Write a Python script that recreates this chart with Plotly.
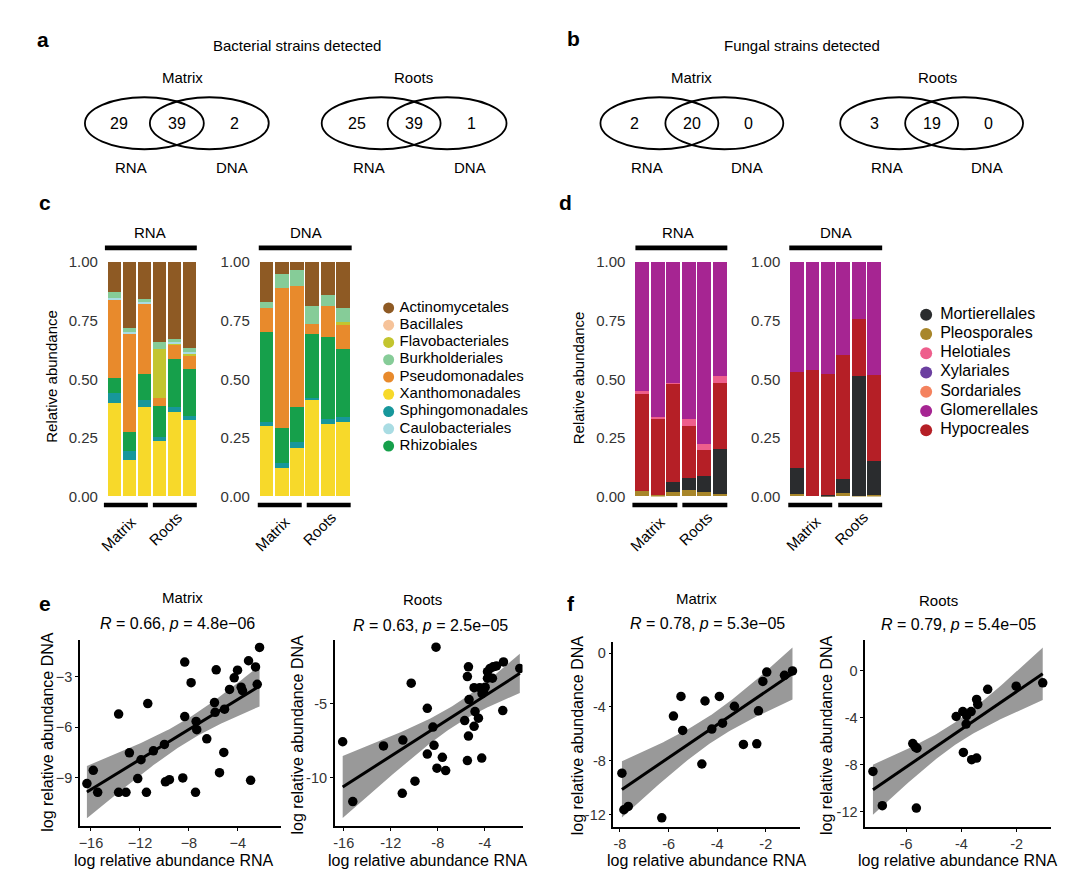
import numpy as np
import plotly.graph_objects as go

W, H = 1080, 886
FONT = "Liberation Sans, Arial, sans-serif"


def fx(p):
    return p / W


def fy(p):
    return 1 - p / H


# ---------------- Venn counts: [RNA only, shared, DNA only] ----------------
venn_bact_matrix = [29, 39, 2]
venn_bact_roots = [25, 39, 1]
venn_fung_matrix = [2, 20, 0]
venn_fung_roots = [3, 19, 0]

# ---------------- stacked bars ----------------
samples = ["M1", "M2", "M3", "R1", "R2", "R3"]

bact_legend = ["Actinomycetales", "Bacillales", "Flavobacteriales", "Burkholderiales",
               "Pseudomonadales", "Xanthomonadales", "Sphingomonadales",
               "Caulobacteriales", "Rhizobiales"]
bact_colors = ["#8E5A24", "#F6C39A", "#C3C52F", "#86CC98", "#E88A2C",
               "#F7D92A", "#17979B", "#A9DCE3", "#16A04B"]
bact_stack = ["Xanthomonadales", "Sphingomonadales", "Rhizobiales", "Pseudomonadales",
              "Flavobacteriales", "Caulobacteriales", "Burkholderiales", "Bacillales",
              "Actinomycetales"]

# bacterial RNA relative abundance per order (6 samples)
b_rna_xanthomonadales = [0.400, 0.157, 0.380, 0.238, 0.359, 0.326]
b_rna_sphingomonadales = [0.040, 0.039, 0.030, 0.014, 0.021, 0.017]
b_rna_rhizobiales = [0.067, 0.077, 0.112, 0.135, 0.207, 0.202]
b_rna_pseudomonadales = [0.334, 0.422, 0.300, 0.035, 0.059, 0.056]
b_rna_flavobacteriales = [0.000, 0.000, 0.000, 0.207, 0.006, 0.007]
b_rna_caulobacteriales = [0.007, 0.007, 0.009, 0.000, 0.005, 0.007]
b_rna_burkholderiales = [0.025, 0.018, 0.011, 0.028, 0.014, 0.017]
b_rna_bacillales = [0.000, 0.000, 0.000, 0.000, 0.000, 0.000]
b_rna_actinomycetales = [0.127, 0.280, 0.158, 0.343, 0.329, 0.368]

# bacterial DNA
b_dna_xanthomonadales = [0.299, 0.122, 0.208, 0.414, 0.310, 0.319]
b_dna_sphingomonadales = [0.020, 0.022, 0.024, 0.008, 0.020, 0.021]
b_dna_rhizobiales = [0.383, 0.147, 0.150, 0.273, 0.351, 0.289]
b_dna_pseudomonadales = [0.102, 0.599, 0.516, 0.039, 0.130, 0.104]
b_dna_flavobacteriales = [0.000, 0.000, 0.000, 0.000, 0.000, 0.012]
b_dna_caulobacteriales = [0.000, 0.000, 0.000, 0.000, 0.000, 0.000]
b_dna_burkholderiales = [0.027, 0.060, 0.066, 0.077, 0.049, 0.058]
b_dna_bacillales = [0.000, 0.000, 0.000, 0.000, 0.000, 0.000]
b_dna_actinomycetales = [0.169, 0.050, 0.036, 0.189, 0.140, 0.197]

bact_rna = {
    "Xanthomonadales": b_rna_xanthomonadales, "Sphingomonadales": b_rna_sphingomonadales,
    "Rhizobiales": b_rna_rhizobiales, "Pseudomonadales": b_rna_pseudomonadales,
    "Flavobacteriales": b_rna_flavobacteriales, "Caulobacteriales": b_rna_caulobacteriales,
    "Burkholderiales": b_rna_burkholderiales, "Bacillales": b_rna_bacillales,
    "Actinomycetales": b_rna_actinomycetales}
bact_dna = {
    "Xanthomonadales": b_dna_xanthomonadales, "Sphingomonadales": b_dna_sphingomonadales,
    "Rhizobiales": b_dna_rhizobiales, "Pseudomonadales": b_dna_pseudomonadales,
    "Flavobacteriales": b_dna_flavobacteriales, "Caulobacteriales": b_dna_caulobacteriales,
    "Burkholderiales": b_dna_burkholderiales, "Bacillales": b_dna_bacillales,
    "Actinomycetales": b_dna_actinomycetales}

fung_legend = ["Mortierellales", "Pleosporales", "Helotiales", "Xylariales",
               "Sordariales", "Glomerellales", "Hypocreales"]
fung_colors = ["#2A2C2E", "#A8862A", "#EE5E8C", "#6B3FA0", "#F4825E", "#A62592", "#B51F26"]
fung_stack = ["Pleosporales", "Mortierellales", "Hypocreales", "Sordariales",
              "Xylariales", "Helotiales", "Glomerellales"]

f_rna_pleosporales = [0.025, 0.006, 0.020, 0.028, 0.017, 0.011]
f_rna_mortierellales = [0.000, 0.000, 0.042, 0.051, 0.069, 0.190]
f_rna_hypocreales = [0.413, 0.327, 0.418, 0.221, 0.111, 0.284]
f_rna_sordariales = [0.000, 0.000, 0.000, 0.000, 0.000, 0.000]
f_rna_xylariales = [0.000, 0.000, 0.000, 0.000, 0.000, 0.000]
f_rna_helotiales = [0.013, 0.004, 0.005, 0.029, 0.025, 0.028]
f_rna_glomerellales = [0.549, 0.663, 0.515, 0.671, 0.778, 0.487]

f_dna_pleosporales = [0.011, 0.000, 0.001, 0.014, 0.004, 0.006]
f_dna_mortierellales = [0.111, 0.000, 0.005, 0.059, 0.509, 0.144]
f_dna_hypocreales = [0.408, 0.541, 0.518, 0.531, 0.245, 0.370]
f_dna_sordariales = [0.000, 0.000, 0.000, 0.000, 0.000, 0.000]
f_dna_xylariales = [0.000, 0.000, 0.000, 0.000, 0.000, 0.000]
f_dna_helotiales = [0.000, 0.000, 0.000, 0.000, 0.000, 0.000]
f_dna_glomerellales = [0.470, 0.459, 0.476, 0.396, 0.242, 0.480]

fung_rna = {
    "Pleosporales": f_rna_pleosporales, "Mortierellales": f_rna_mortierellales,
    "Hypocreales": f_rna_hypocreales, "Sordariales": f_rna_sordariales,
    "Xylariales": f_rna_xylariales, "Helotiales": f_rna_helotiales,
    "Glomerellales": f_rna_glomerellales}
fung_dna = {
    "Pleosporales": f_dna_pleosporales, "Mortierellales": f_dna_mortierellales,
    "Hypocreales": f_dna_hypocreales, "Sordariales": f_dna_sordariales,
    "Xylariales": f_dna_xylariales, "Helotiales": f_dna_helotiales,
    "Glomerellales": f_dna_glomerellales}

# ---------------- scatter data (log relative abundance) ----------------
e_matrix_rna = [-16.33, -15.81, -15.45, -13.74, -13.74, -13.14, -12.86, -12.18, -11.91, -11.36,
                -11.47, -10.90, -10.00, -9.92, -9.59, -8.50, -8.34, -8.34, -7.82, -7.46,
                -7.41, -7.36, -6.54, -5.77, -5.91, -5.86, -5.50, -5.15, -5.09, -4.68,
                -4.30, -4.03, -3.73, -3.62, -3.13, -2.96, -2.56, -2.42, -2.23]
e_matrix_dna = [-9.33, -8.55, -9.85, -5.21, -9.85, -9.85, -7.51, -9.04, -7.92, -4.59,
                -9.85, -7.39, -7.01, -9.23, -9.10, -9.00, -2.13, -5.36, -3.35, -9.85,
                -5.65, -6.14, -6.68, -2.59, -4.53, -5.11, -8.69, -7.49, -4.92, -3.75,
                -3.06, -2.61, -3.62, -3.83, -2.05, -9.14, -2.42, -3.45, -1.26]

e_roots_rna = [-16.09, -15.23, -12.62, -10.97, -11.02, -10.26, -9.94, -8.89, -8.89, -8.41,
               -8.32, -8.15, -8.07, -7.61, -7.33, -5.71, -5.39, -5.48, -5.34, -5.39,
               -5.48, -4.91, -4.91, -4.83, -4.54, -4.43, -4.26, -4.11, -3.97, -3.77,
               -3.77, -3.35, -3.55, -3.29, -3.01, -2.47, -2.41, -1.02, -4.23]
e_roots_dna = [-7.58, -11.61, -7.86, -7.47, -11.06, -3.63, -10.24, -5.33, -8.41, -6.59,
               -7.82, -1.21, -9.36, -8.63, -9.52, -6.15, -2.53, -3.19, -4.74, -7.20,
               -8.85, -3.94, -6.54, -5.55, -5.99, -3.94, -8.68, -4.19, -3.90, -2.86,
               -3.30, -3.30, -2.64, -2.53, -2.47, -5.48, -2.20, -2.64, -4.34]

f_matrix_rna = [-7.92, -7.84, -7.66, -6.28, -5.80, -5.49, -5.42, -4.63, -4.50, -4.22,
                -3.91, -3.78, -3.29, -2.92, -2.37, -2.30, -2.12, -1.96, -1.23, -0.90]
f_matrix_dna = [-8.92, -11.64, -11.39, -12.24, -4.68, -3.22, -5.75, -8.24, -3.56, -5.65,
                -3.22, -5.21, -3.95, -6.79, -6.74, -4.29, -2.11, -1.41, -1.65, -1.33]

f_roots_rna = [-7.20, -6.86, -5.76, -5.67, -5.61, -5.63, -4.19, -3.95, -3.81, -3.83,
               -3.93, -3.65, -3.45, -3.41, -3.63, -3.45, -3.05, -2.02, -1.06]
f_roots_dna = [-8.56, -11.47, -6.19, -6.47, -6.58, -11.67, -3.89, -3.47, -3.81, -4.53,
               -6.94, -3.47, -2.44, -2.86, -7.56, -7.42, -1.58, -1.31, -1.03]

stat_labels = ["<i>R</i> = 0.66, <i>p</i> = 4.8e\u221206",
               "<i>R</i> = 0.63, <i>p</i> = 2.5e\u221205",
               "<i>R</i> = 0.78, <i>p</i> = 5.3e\u221205",
               "<i>R</i> = 0.79, <i>p</i> = 5.4e\u221205"]

# two-sided 95% t quantiles by degrees of freedom
T975 = {37: 2.026, 18: 2.101, 17: 2.110}


def lm_fit(x, y):
    x = np.asarray(x, float)
    y = np.asarray(y, float)
    n = len(x)
    b, a = np.polyfit(x, y, 1)
    xs = np.linspace(x.min(), x.max(), 100)
    yh = a + b * xs
    resid = y - (a + b * x)
    s = np.sqrt((resid ** 2).sum() / (n - 2))
    sxx = ((x - x.mean()) ** 2).sum()
    se = s * np.sqrt(1.0 / n + (xs - x.mean()) ** 2 / sxx)
    t = T975[n - 2]
    return xs, yh, yh - t * se, yh + t * se


fig = go.Figure()
layout_axes = {}

# ---------------- bar panels ----------------
bar_panels = [
    (1, bact_rna, bact_stack, dict(zip(bact_legend, bact_colors)), (106, 196)),
    (2, bact_dna, bact_stack, dict(zip(bact_legend, bact_colors)), (258, 350)),
    (3, fung_rna, fung_stack, dict(zip(fung_legend, fung_colors)), (634, 727)),
    (4, fung_dna, fung_stack, dict(zip(fung_legend, fung_colors)), (789, 882)),
]
for idx, data, order, cmap, (x0, x1) in bar_panels:
    xa = "x" if idx == 1 else f"x{idx}"
    ya = "y" if idx == 1 else f"y{idx}"
    for name in order:
        fig.add_trace(go.Bar(x=samples, y=data[name], name=name, marker_color=cmap[name],
                             marker_line_width=0, xaxis=xa, yaxis=ya, showlegend=False,
                             hoverinfo="name+y"))
    xk = "xaxis" if idx == 1 else f"xaxis{idx}"
    yk = "yaxis" if idx == 1 else f"yaxis{idx}"
    layout_axes[xk] = dict(domain=[fx(x0), fx(x1)], anchor=ya, showticklabels=False,
                           showgrid=False, zeroline=False, showline=False, ticks="",
                           range=[-0.5, 5.5], type="category")
    layout_axes[yk] = dict(domain=[fy(497), fy(258)], anchor=xa, range=[0, 1],
                           tickvals=[0, 0.25, 0.5, 0.75, 1.0],
                           ticktext=["0.00", "0.25", "0.50", "0.75", "1.00"],
                           tickfont=dict(size=15, color="#333333", family=FONT),
                           showgrid=False, zeroline=False, showline=False, ticks="",
                           ticklabelstandoff=8)

# ---------------- scatter panels ----------------
scatter_panels = [
    (5, e_matrix_rna, e_matrix_dna, (79, 280), (643, 833), [-16.9, -0.5], [-11.85, -0.8],
     [-16, -12, -8, -4], [-3, -6, -9], "\u2212"),
    (6, e_roots_rna, e_roots_dna, (334, 522), (643, 833), [-16.77, -0.79], [-13.26, -0.70],
     [-16, -12, -8, -4], [-5, -10], "-"),
    (7, f_matrix_rna, f_matrix_dna, (613, 800), (645, 834), [-8.27, -0.58], [-12.92, 0.85],
     [-8, -6, -4, -2], [0, -4, -8, -12], "-"),
    (8, f_roots_rna, f_roots_dna, (865, 1051), (643, 834), [-7.48, -0.76], [-13.28, 2.64],
     [-6, -4, -2], [0, -4, -8, -12], "-"),
]


def lab(v, minus):
    return (minus + str(abs(v))) if v < 0 else str(v)


for idx, xr, yr, (x0, x1), (y0, y1), xrange_, yrange_, xt, yt, minus in scatter_panels:
    xa, ya = f"x{idx}", f"y{idx}"
    xs, yh, lo, hi = lm_fit(xr, yr)
    fig.add_trace(go.Scatter(x=np.concatenate([xs, xs[::-1]]), y=np.concatenate([hi, lo[::-1]]),
                             fill="toself", fillcolor="#999999", line=dict(width=0),
                             mode="lines", xaxis=xa, yaxis=ya, showlegend=False,
                             hoverinfo="skip"))
    fig.add_trace(go.Scatter(x=xr, y=yr, mode="markers",
                             marker=dict(size=9.5, color="black"),
                             xaxis=xa, yaxis=ya, showlegend=False))
    fig.add_trace(go.Scatter(x=xs, y=yh, mode="lines", line=dict(color="black", width=3),
                             xaxis=xa, yaxis=ya, showlegend=False, hoverinfo="skip"))
    common = dict(showline=True, linecolor="black", linewidth=1.5, ticks="outside",
                  ticklen=3, tickwidth=1.2, tickcolor="black", showgrid=False,
                  zeroline=False, tickfont=dict(size=14.5, color="#333333", family=FONT))
    layout_axes[f"xaxis{idx}"] = dict(domain=[fx(x0), fx(x1)], anchor=ya, range=xrange_,
                                      tickvals=xt, ticktext=[lab(v, minus) for v in xt],
                                      **common)
    layout_axes[f"yaxis{idx}"] = dict(domain=[fy(y1), fy(y0)], anchor=xa, range=yrange_,
                                      tickvals=yt, ticktext=[lab(v, minus) for v in yt],
                                      **common)

# ---------------- manual legends ----------------
fig.add_trace(go.Scatter(x=[8] * len(bact_legend), y=list(range(len(bact_legend)))[::-1],
                         mode="markers", marker=dict(size=11, color=bact_colors),
                         xaxis="x9", yaxis="y9", showlegend=False, hoverinfo="skip"))
fig.add_trace(go.Scatter(x=[19] * len(bact_legend), y=list(range(len(bact_legend)))[::-1],
                         mode="text", text=bact_legend, textposition="middle right",
                         textfont=dict(size=15, color="black", family=FONT),
                         xaxis="x9", yaxis="y9", showlegend=False, hoverinfo="skip"))
layout_axes["xaxis9"] = dict(domain=[fx(380), fx(540)], range=[0, 160], visible=False,
                             anchor="y9")
layout_axes["yaxis9"] = dict(domain=[fy(296 + 17.6 * 9), fy(296)], range=[-0.5, 8.5],
                             visible=False, anchor="x9")
fig.add_trace(go.Scatter(x=[16] * len(fung_legend), y=list(range(len(fung_legend)))[::-1],
                         mode="markers", marker=dict(size=12, color=fung_colors),
                         xaxis="x10", yaxis="y10", showlegend=False, hoverinfo="skip"))
fig.add_trace(go.Scatter(x=[30] * len(fung_legend), y=list(range(len(fung_legend)))[::-1],
                         mode="text", text=fung_legend, textposition="middle right",
                         textfont=dict(size=16, color="black", family=FONT),
                         xaxis="x10", yaxis="y10", showlegend=False, hoverinfo="skip"))
layout_axes["xaxis10"] = dict(domain=[fx(910), fx(1075)], range=[0, 165], visible=False,
                              anchor="y10")
layout_axes["yaxis10"] = dict(domain=[fy(302 + 19.6 * 7), fy(302)], range=[-0.5, 6.5],
                              visible=False, anchor="x10")

# ---------------- annotations ----------------
annotations = []


def ann(text, x, y, size=15, bold=False, **kw):
    d = dict(text=f"<b>{text}</b>" if bold else text, x=fx(x), y=fy(y), xref="paper",
             yref="paper", showarrow=False, xanchor="center", yanchor="middle",
             font=dict(size=size, color="black", family=FONT))
    d.update(kw)
    annotations.append(d)


for letter, (x, y) in zip("abcdef", [(42, 31), (573, 30), (44, 197), (565, 197),
                                      (44, 606), (571, 606)]):
    ann(letter, x, y, size=21, bold=True)

shapes = []


def ellipse(x0, y0, x1, y1):
    shapes.append(dict(type="circle", xref="paper", yref="paper", x0=fx(x0), x1=fx(x1),
                       y0=fy(y1), y1=fy(y0), line=dict(color="black", width=1.8)))


def venn(counts, lx0, rx0, w, title, tx):
    ellipse(lx0, 90, lx0 + w, 143)
    ellipse(rx0, 90, rx0 + w, 143)
    ann(title, tx, 70)
    ann(str(counts[0]), (lx0 + rx0) / 2 + 2, 117, size=16)
    ann(str(counts[1]), (rx0 + lx0 + w) / 2, 117, size=16)
    ann(str(counts[2]), (lx0 + w + rx0 + w) / 2 - 2, 117, size=16)
    ann("RNA", (lx0 + rx0) / 2 + 14, 162)
    ann("DNA", (lx0 + w + rx0 + w) / 2 - 4, 162)


ann("Bacterial strains detected", 296, 37)
ann("Fungal strains detected", 802, 37)
venn(venn_bact_matrix, 84, 149, 119, "Matrix", 182)
venn(venn_bact_roots, 321, 387, 119, "Roots", 413)
venn(venn_fung_matrix, 600, 665, 118, "Matrix", 691)
venn(venn_fung_roots, 840, 905, 118, "Roots", 937)


def rect(x0, x1, y0, y1):
    shapes.append(dict(type="rect", xref="paper", yref="paper", x0=fx(x0), x1=fx(x1),
                       y0=fy(y1), y1=fy(y0), fillcolor="black", line=dict(width=0)))


for (x0, x1, lbl, cx) in [(104, 196, "RNA", 149), (258, 351, "DNA", 305),
                          (635, 727, "RNA", 678), (789, 882, "DNA", 836)]:
    rect(x0, x1, 241, 246)
    ann(lbl, cx, 228)
for (m0, m1, r0, r1) in [(103, 147, 152, 196), (257, 301, 306, 350),
                         (632, 677, 682, 727), (788, 832, 838, 882)]:
    rect(m0, m1, 503.5, 508)
    rect(r0, r1, 503.5, 508)
    ann("Matrix", (m0 + m1) / 2 - 7, 535, textangle=-45)
    ann("Roots", (r0 + r1) / 2 - 9, 530, textangle=-45)

ann("Relative abundance", 51, 374, textangle=-90)
ann("Relative abundance", 578, 376, textangle=-90)

for (title, tx, ty, stat, sx, sy) in [("Matrix", 182, 600, stat_labels[0], 177, 627),
                                      ("Roots", 422, 602, stat_labels[1], 430, 629),
                                      ("Matrix", 696, 601, stat_labels[2], 707, 627),
                                      ("Roots", 938, 603, stat_labels[3], 958, 628)]:
    ann(title, tx, ty)
    ann(stat, sx, sy, size=16)
for (xx, xy, yx, yy) in [(173, 868, 47, 737), (427, 868, 297, 740),
                         (707, 868, 577, 740), (958, 868, 827, 740)]:
    ann("log relative abundance RNA", xx, xy, size=16)
    ann("log relative abundance DNA", yx, yy, size=16, textangle=-90)

fig.update_layout(
    width=W, height=H, margin=dict(l=0, r=0, t=0, b=0),
    paper_bgcolor="white", plot_bgcolor="white",
    barmode="stack", bargap=0.1, showlegend=False,
    font=dict(family=FONT, color="black"),
    annotations=annotations, shapes=shapes,
    **layout_axes,
)

fig.write_html("out.html")
